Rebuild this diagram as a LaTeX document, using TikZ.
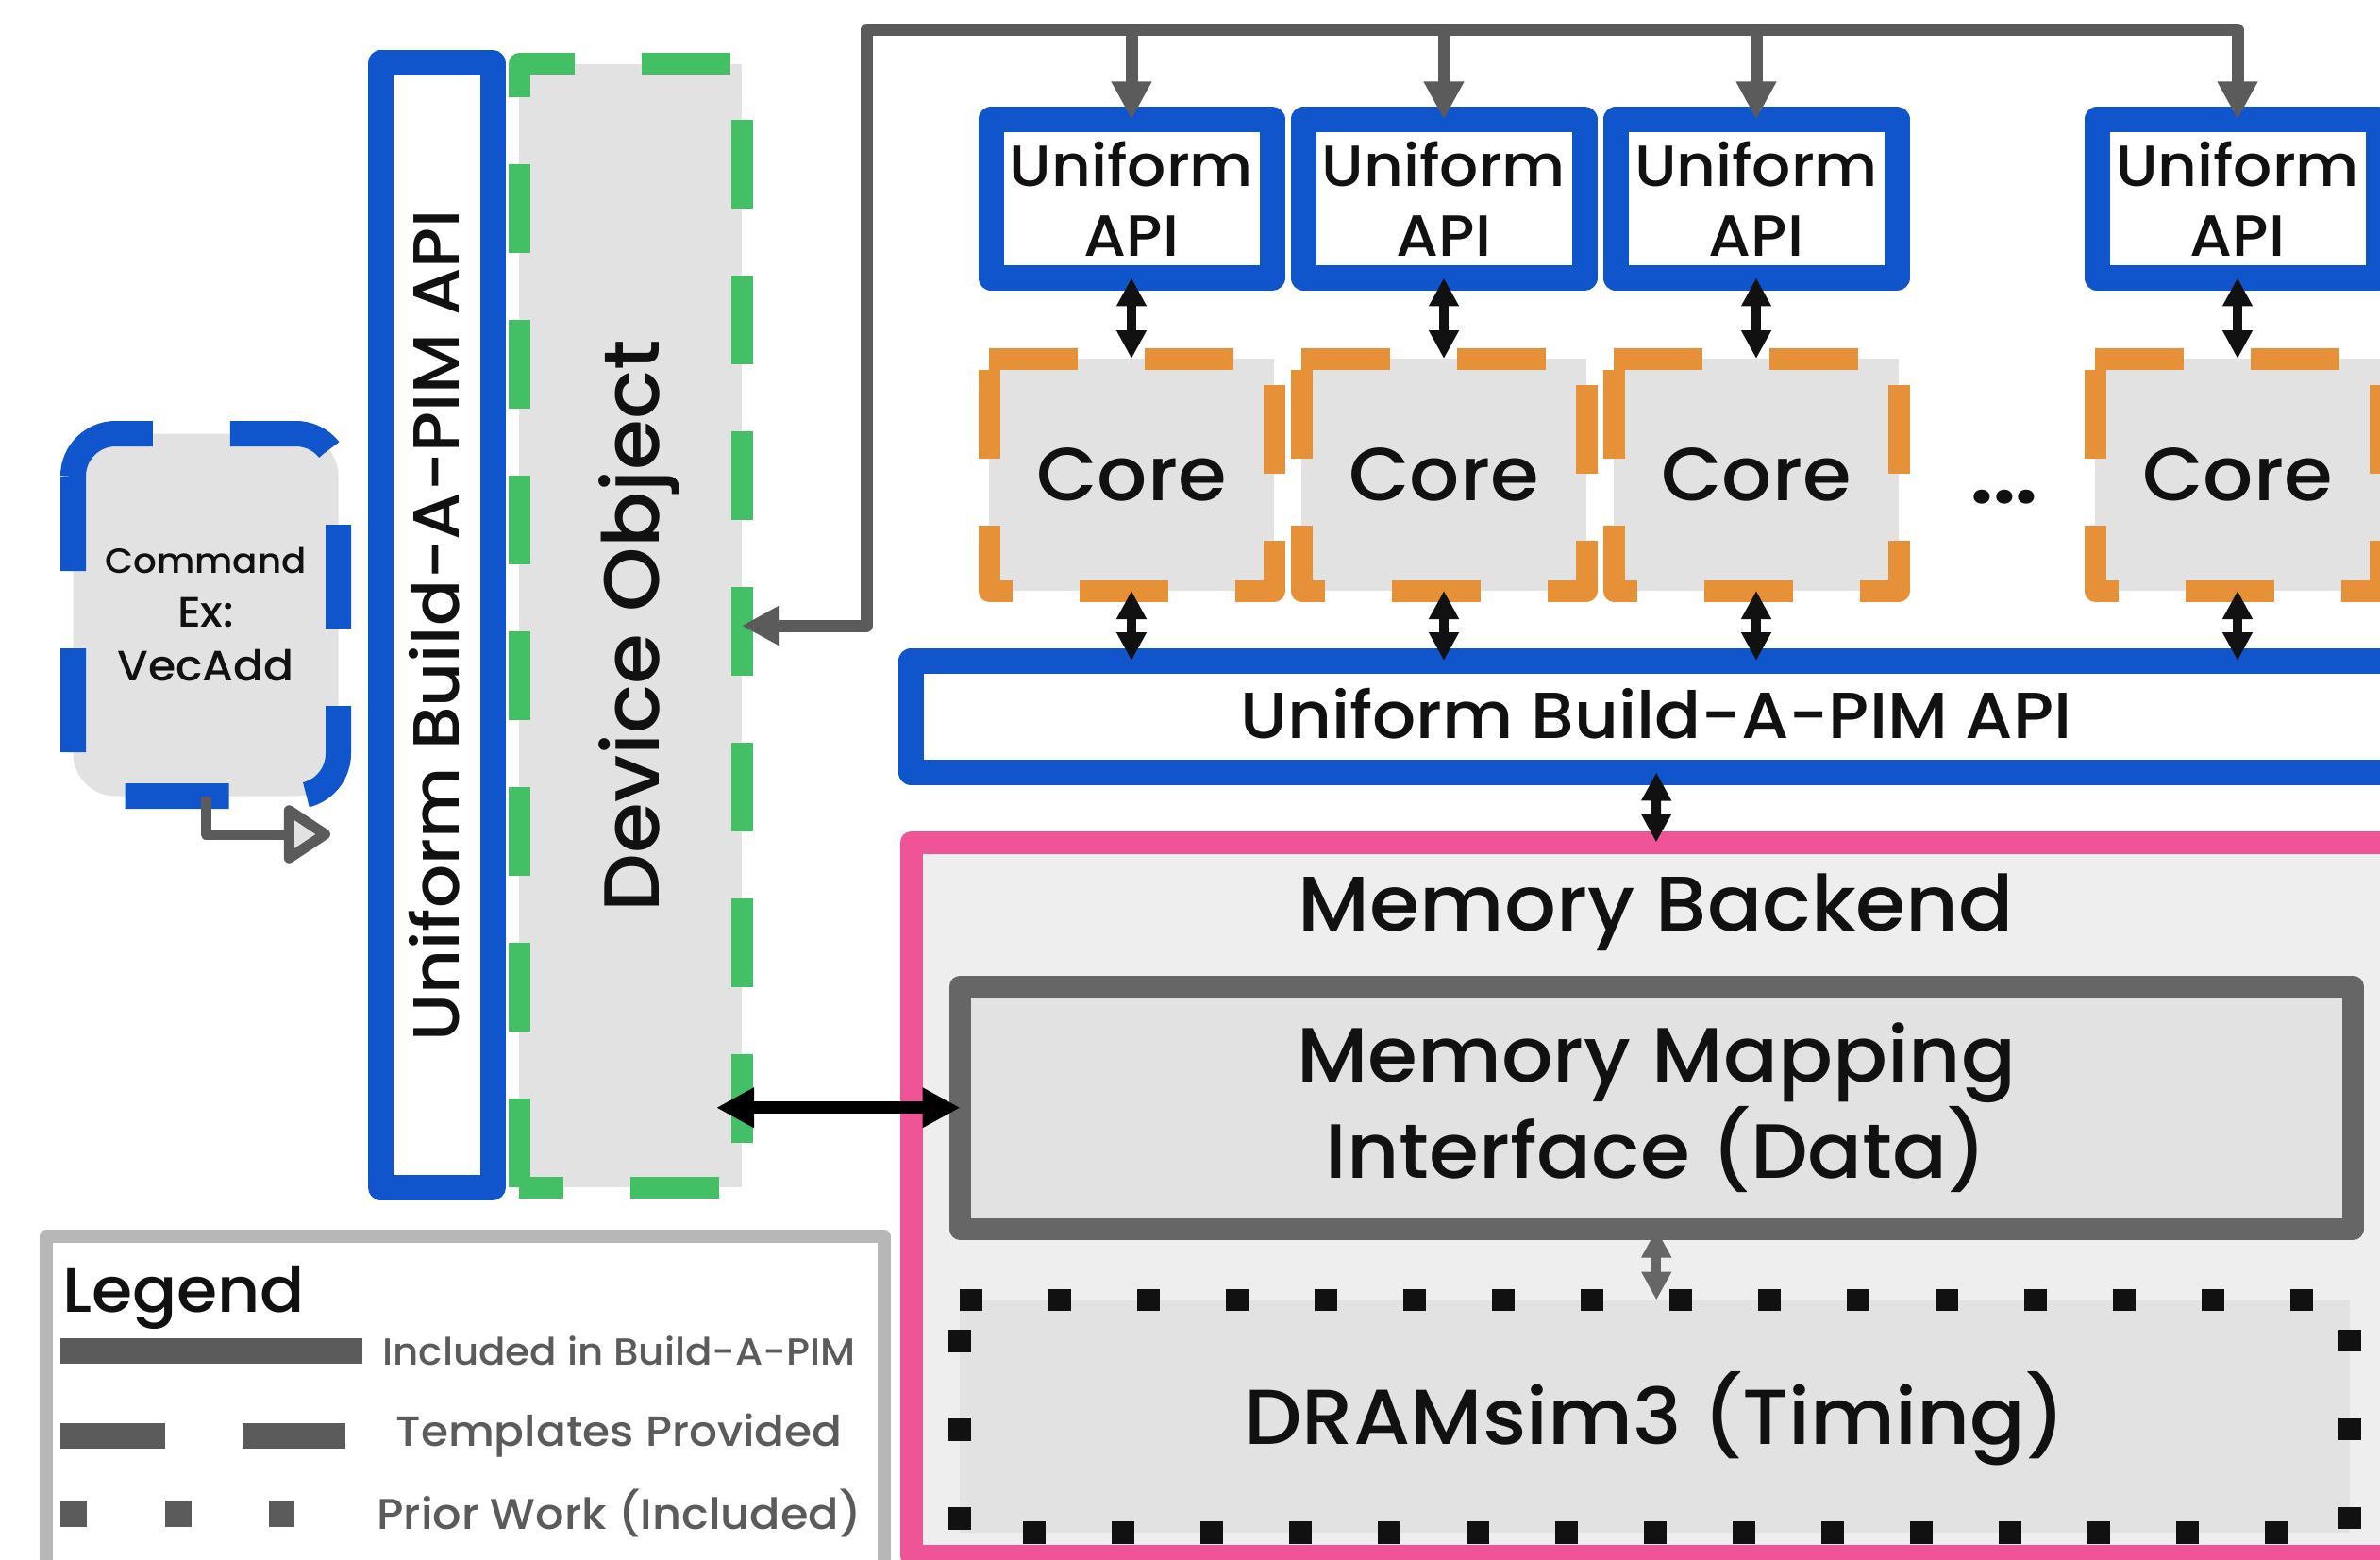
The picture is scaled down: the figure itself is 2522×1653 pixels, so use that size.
\documentclass[tikz,border=0pt]{standalone}
\usepackage{fontspec}
\setmainfont{Poppins}[UprightFont=* Medium,BoldFont=* Bold,FakeStretch=1.05]
\usetikzlibrary{arrows.meta}
\definecolor{cblue}{HTML}{1155CC}
\definecolor{cgreen}{HTML}{43BF66}
\definecolor{corange}{HTML}{E69138}
\definecolor{cpink}{HTML}{EE5496}
\definecolor{cfill}{HTML}{E2E2E2}
\definecolor{cfilltwo}{HTML}{EEEEEE}
\definecolor{cline}{HTML}{5B5B5B}
\definecolor{cmap}{HTML}{666666}
\definecolor{clegend}{HTML}{B7B7B7}
\definecolor{cblack}{HTML}{111111}
\newcommand{\fsz}[2]{\fontsize{#1pt}{#2pt}\selectfont}
\begin{document}
\begin{tikzpicture}[x=1pt,y=-1pt,
  box/.style={inner sep=0pt,outer sep=0pt,line join=round,align=center,text=cblack},
  bluebox/.style={box,draw=cblue,line width=27pt,fill=white},
  gfill/.style={box,fill=cfill},
  tmpldash/.style={line width=23pt,dash pattern=on 94pt off 71pt,line join=round},
  priordots/.style={draw=cblack,line width=23.5pt,dash pattern=on 23.5pt off 70.5pt},
  garrow/.style={draw=cline,line width=13pt,line join=round,line cap=round,-{Triangle[length=40pt,width=40pt]}},
  dblarrow/.style={draw=cblack,line width=10pt,{Triangle[length=30pt,width=30pt]}-{Triangle[length=30pt,width=30pt]}},
  bigarrow/.style={draw=black,line width=13pt,{Triangle[length=40pt,width=40pt]}-{Triangle[length=40pt,width=40pt]}},
  cmdarrow/.style={draw=cline,line width=11pt,line join=round,-{Triangle[open,round,fill=cfill,length=54pt,width=68pt]}},
  legtext/.style={anchor=base,text=cline},
  plaintext/.style={inner sep=0pt,outer sep=0pt,text=cblack}
]
\useasboundingbox (0,0) rectangle (2522,1653);
\clip (0,0) rectangle (2522,1653);
\fill[white] (0,0) rectangle (2522,1653);

% ---------- command box
\node[gfill,rounded corners=45pt,minimum width=281pt,minimum height=384pt,font=\fsz{45}{57}] (cmd) at (218,651.5) {{\fsz{37}{55}Command}\\Ex:\\VecAdd};
\draw[cblue,line width=27pt,dash pattern=on 110pt off 82pt,rounded corners=45pt]
  ([yshift=-45pt]cmd.north west) -- (cmd.north west) -- (cmd.north east) -- (cmd.south east) -- (cmd.south west) -- ([yshift=-45pt]cmd.north west);

% ---------- vertical uniform API
\node[bluebox,minimum width=118.5pt,minimum height=1191pt] (vapi) at (462.75,662.5) {};
\node[plaintext,rotate=90,anchor=base,font=\fsz{69}{69}] (vapitext) at (486,662.5) {Uniform Build-A-PIM API};

% ---------- device object
\node[gfill,minimum width=236pt,minimum height=1190pt] (dev) at (668,663) {};
\draw[cgreen,tmpldash] (dev.south west) -- (dev.north west) -- (dev.north east) -- (dev.south east) -- cycle;
\node[plaintext,rotate=90,anchor=base,font=\fsz{83}{83}] (devtext) at (698,663) {Device Object};

% ---------- API boxes and cores
\foreach \n/\x in {1/1199,2/1530,3/1861,4/2371}{
  \node[bluebox,minimum width=298pt,minimum height=168pt,font=\fsz{61.5}{74}] (api\n) at (\x,210.5) {Uniform\\API};
  \node[gfill,minimum width=302pt,minimum height=246pt,font=\fsz{79.5}{79.5}] (core\n) at (\x,503) {Core};
  \draw[corange,tmpldash] (core\n.north west) -- (core\n.north east) -- (core\n.south east) -- (core\n.south west) -- cycle;
}
\node[plaintext,anchor=base,font=\fsz{80}{80}\bfseries] (dots) at (2124,533) {...};

% ---------- horizontal uniform API bar
\node[bluebox,minimum width=1579.5pt,minimum height=118.5pt] (bar) at (1755.25,759.25) {};
\node[plaintext,anchor=base,font=\fsz{69}{69}] (bartext) at (1755,782) {Uniform Build-A-PIM API};

% ---------- memory backend
\node[box,draw=cpink,fill=cfilltwo,line width=24pt,minimum width=1578pt,minimum height=756.5pt] (mem) at (1755,1270.75) {};
\node[plaintext,anchor=base,font=\fsz{82}{82}] (memtitle) at (1755,986) {Memory Backend};
\node[box,draw=cmap,fill=cfill,line width=23pt,minimum width=1475.5pt,minimum height=257.5pt,font=\fsz{81.5}{102}] (map) at (1755.25,1173.75) {Memory Mapping\\Interface (Data)};
\node[gfill,minimum width=1473pt,minimum height=246.5pt] (dram) at (1753.5,1500.75) {};
\draw[priordots] (dram.north west) -- (dram.north east) -- (dram.south east) -- (dram.south west) -- cycle;
\node[plaintext,anchor=base,font=\fsz{82.5}{82.5}] (dramtext) at (1753.5,1530) {DRAMsim3 (Timing)};

% ---------- legend
\node[box,draw=clegend,line width=14pt,minimum width=887.5pt,minimum height=420pt] (legend) at (492.75,1520) {};
\node[plaintext,anchor=base west,font=\fsz{66.5}{66.5}] (legtitle) at (66,1390) {Legend};
\draw[cline,line width=27pt] (64,1431.5) -- (384,1431.5);
\draw[cline,line width=27pt,dash pattern=on 111pt off 82pt] (64,1521.5) -- (366,1521.5);
\draw[cline,line width=28pt,dash pattern=on 28pt off 82.5pt] (64,1604) -- (312,1604);
\node[legtext,font=\fsz{40}{40}] (leg1) at (656,1446) {Included in Build-A-PIM};
\node[legtext,font=\fsz{44.8}{45}] (leg2) at (656,1532) {Templates Provided};
\node[legtext,font=\fsz{45.5}{46}] (leg3) at (656,1620) {Prior Work (Included)};

% ---------- connectors
\coordinate (busL) at (918,32);
\coordinate (busR) at (2371,32);
\draw[garrow] (busR) -- (busL) |- (dev.east);
\draw[garrow] (busR) -- (api4.north);
\foreach \n in {1,2,3}{\draw[garrow] (busL -| api\n.north) -- (api\n.north);}
\foreach \n in {1,2,3,4}{
  \draw[dblarrow] (api\n.south) -- (core\n.north);
  \draw[dblarrow] (core\n.south) -- (core\n.south |- bar.north);
}
\draw[dblarrow] (bar.south) -- (mem.north);
\draw[dblarrow,draw=cmap] (map.south) -- (map.south |- dram.north);
\draw[bigarrow,shorten <=-27pt] (dev.east |- map.west) -- (map.west);
\coordinate (cmdtip) at (350,884);
\draw[cmdarrow] (cmd.south) |- (cmdtip);
\end{tikzpicture}
\end{document}
